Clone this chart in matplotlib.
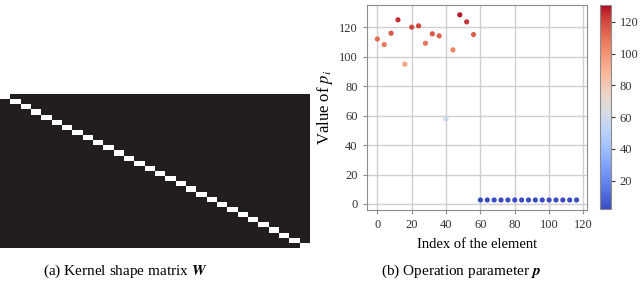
import numpy as np
import matplotlib
matplotlib.use('Agg')
import matplotlib.pyplot as plt
from matplotlib.colors import LinearSegmentedColormap

plt.rcParams['font.family'] = ['Liberation Serif', 'DejaVu Serif']
plt.rcParams['mathtext.fontset'] = 'stix'

# Kernel shape matrix: one active entry per column
n_kernel = 30
W = np.eye(n_kernel)

# Operation parameter p (every 4th element shown)
idx = np.arange(0, 120, 4)
p_head = [112, 108.2, 115.9, 125, 94.9, 120, 120.9, 109.1, 115.5, 114.1,
          57.7, 104.6, 128.4, 123.6, 115]
p_tail = [2.7] * 15
p_vals = np.array(p_head + p_tail)

fig = plt.figure(figsize=(6.4, 2.86), dpi=100)

# (a) matrix
ax1 = fig.add_axes([0.0, 0.133, 0.484, 0.538])
mat_cmap = LinearSegmentedColormap.from_list('mat', ['#221e1f', '#ffffff'])
ax1.imshow(W, cmap=mat_cmap, aspect='auto', interpolation='nearest')
ax1.set_xticks([])
ax1.set_yticks([])
for s in ax1.spines.values():
    s.set_visible(False)

# (b) scatter
ax2 = fig.add_axes([0.573, 0.2657, 0.344, 0.717])
sc = ax2.scatter(idx, p_vals, c=p_vals, cmap='coolwarm', s=14, zorder=3,
                 vmin=2.2, vmax=130.5, linewidths=0)
ax2.set_xlim(-6.2, 122)
ax2.set_ylim(-4.1, 135.1)
ax2.set_xticks(np.arange(0, 121, 20))
ax2.set_yticks(np.arange(0, 121, 20))
ax2.grid(True, color='#cfcfcf', linewidth=1.0)
ax2.set_axisbelow(True)
for s in ax2.spines.values():
    s.set_color('#8c8c8c')
ax2.tick_params(labelsize=9, colors='#333333', length=3, color='#8c8c8c')
ax2.set_xlabel('Index of the element', fontsize=10.5, labelpad=5)
ax2.set_ylabel('Value of $p_i$', fontsize=12, labelpad=3)

cax = fig.add_axes([0.9375, 0.269, 0.0167, 0.713])
cb = fig.colorbar(sc, cax=cax, ticks=[20, 40, 60, 80, 100, 120])
cb.ax.tick_params(labelsize=9, length=3, colors='#333333')
cb.outline.set_edgecolor('#8c8c8c')

fig.text(0.195, 0.04, '(a) Kernel shape matrix $\\boldsymbol{W}$', ha='center', fontsize=11)
fig.text(0.72, 0.04, '(b) Operation parameter $\\boldsymbol{p}$', ha='center', fontsize=11)

fig.savefig('out.png', dpi=100)
